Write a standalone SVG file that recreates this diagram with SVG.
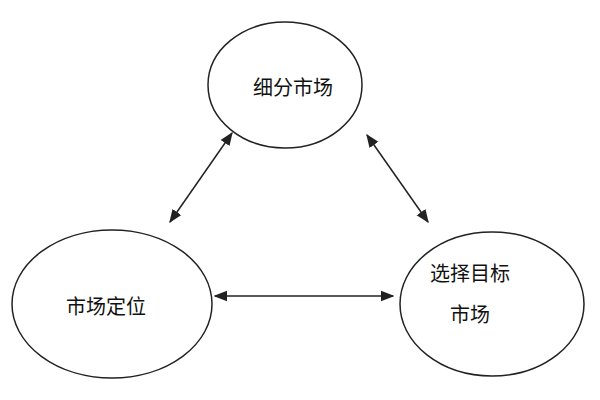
<svg xmlns="http://www.w3.org/2000/svg" width="600" height="400" viewBox="0 0 600 400">
<style>
.n{fill:#fff;stroke:#222;stroke-width:1.5}
.t{font-family:"Noto Sans CJK SC",sans-serif;font-size:20px;fill:#111;text-anchor:middle}
.c{stroke:#222;stroke-width:1.5;fill:none;marker-start:url(#a);marker-end:url(#a)}
</style>
<defs><marker id="a" viewBox="0 0 10 10" refX="9" refY="5" markerWidth="9" markerHeight="9" orient="auto-start-reverse"><path d="M0,1 L10,5 L0,9 Z" fill="#222"/></marker></defs>
<rect width="600" height="400" fill="#fff"/>
<g id="connectors">
<line class="c" x1="232" y1="133" x2="170" y2="222"/>
<line class="c" x1="367" y1="135" x2="428" y2="222"/>
<line class="c" x1="215" y1="296" x2="393" y2="296"/>
</g>
<g id="n1"><ellipse class="n" cx="285" cy="85" rx="77" ry="63"/><text class="t" x="293" y="95">细分市场</text></g>
<g id="n2"><ellipse class="n" cx="112" cy="304" rx="100" ry="74"/><text class="t" x="106" y="314">市场定位</text></g>
<g id="n3"><ellipse class="n" cx="492" cy="304" rx="92" ry="72"/><text class="t" x="470" y="281">选择目标</text><text class="t" x="470" y="322">市场</text></g>
</svg>
